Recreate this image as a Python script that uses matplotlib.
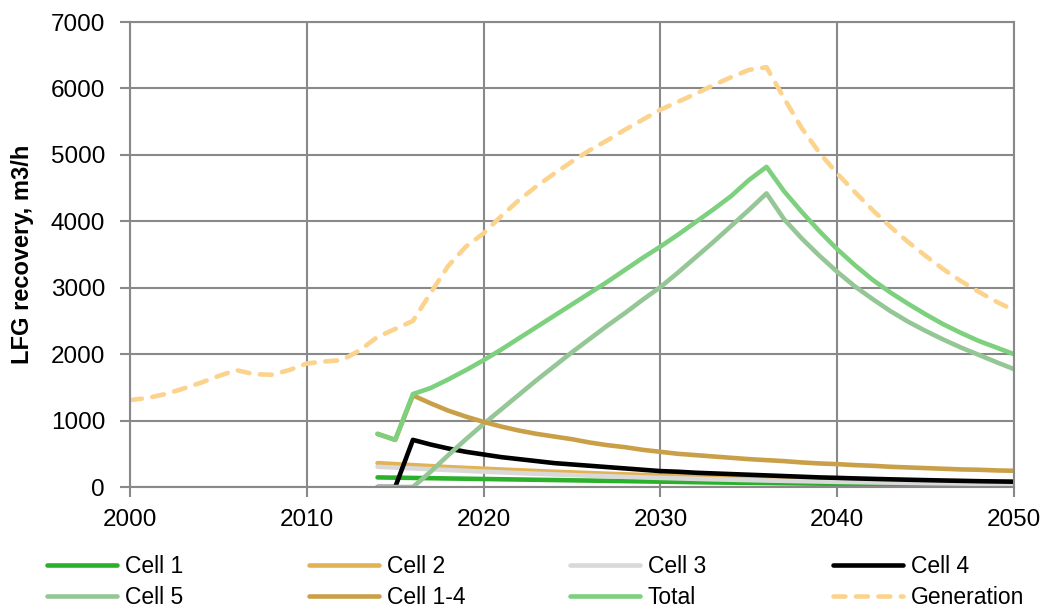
import numpy as np
import matplotlib
matplotlib.use('Agg')
import matplotlib.pyplot as plt

plt.rcParams['font.family'] = ['Liberation Sans', 'DejaVu Sans']

# Landfill gas recovery per cell, m3/h, yearly values
years_gen = list(range(2000, 2051))
years_cells = list(range(2014, 2051))

generation = [1310, 1340, 1400, 1480, 1570, 1670, 1760, 1700, 1690, 1760,
              1860, 1890, 1910, 2060, 2260, 2380, 2500, 2920, 3330, 3620,
              3820, 4080, 4320, 4530, 4720, 4900, 5070, 5220, 5380, 5530,
              5680, 5800, 5920, 6050, 6170, 6280, 6320, 5850, 5400, 5030,
              4720, 4440, 4170, 3920, 3690, 3480, 3280, 3100, 2940, 2790,
              2660]

cell1 = [145, 141, 137, 133, 129, 125, 121, 117, 113, 109,
         105, 101, 97, 93, 89, 85, 81, 77, 73, 69,
         66, 63, 60, 57, 54, 51, 48, 45, 43, 41,
         39, 37, 35, 33, 31, 29, 27]
cell2 = [360, 345, 330, 315, 300, 288, 276, 264, 252, 241,
         230, 220, 210, 200, 191, 182, 174, 166, 158, 151,
         144, 138, 132, 126, 121, 116, 111, 107, 103, 99,
         96, 93, 90, 87, 85, 83, 80]
cell3 = [305, 292, 280, 268, 256, 244, 232, 221, 210, 200,
         190, 180, 171, 162, 153, 145, 137, 130, 123, 116,
         110, 104, 98, 93, 88, 83, 78, 74, 70, 66,
         62, 58, 55, 52, 49, 46, 43]
cell4 = [0, 0, 710, 640, 580, 530, 490, 450, 420, 390,
         360, 340, 320, 300, 280, 260, 240, 230, 215, 205,
         195, 185, 175, 165, 155, 145, 138, 130, 123, 116,
         110, 104, 98, 93, 88, 84, 80]
cell5 = [0, 0, 0, 230, 480, 720, 950, 1170, 1390, 1610,
         1820, 2030, 2230, 2430, 2620, 2820, 3010, 3230, 3460, 3690,
         3930, 4170, 4420, 4030, 3740, 3480, 3240, 3020, 2830, 2650,
         2490, 2350, 2220, 2100, 1990, 1880, 1775]
cell1_4 = [800, 710, 1380, 1260, 1150, 1060, 980, 910, 850, 800,
           760, 720, 670, 630, 600, 560, 530, 500, 480, 460,
           440, 420, 405, 390, 370, 355, 345, 330, 320, 305,
           295, 285, 275, 265, 260, 250, 245]
total = [800, 710, 1400, 1490, 1620, 1760, 1910, 2070, 2240, 2410,
         2580, 2750, 2920, 3090, 3270, 3450, 3620, 3800, 3990, 4180,
         4380, 4620, 4820, 4450, 4140, 3850, 3580, 3340, 3120, 2930,
         2760, 2600, 2450, 2320, 2200, 2100, 2000]

labels = ['Cell 1', 'Cell 2', 'Cell 3', 'Cell 4', 'Cell 5', 'Cell 1-4', 'Total', 'Generation']
colors = ['#2BB02B', '#E2B256', '#D9D9D9', '#000000', '#95C695', '#C9A048', '#7DD07D', '#FBD38D']

fig = plt.figure(figsize=(10.47, 6.12), dpi=100)
ax = fig.add_axes([0.1242, 0.2042, 0.8443, 0.7598])

lw = 3.3
series = [cell1, cell2, cell3, cell4, cell5, cell1_4, total]
for vals, lab, col in zip(series, labels[:7], colors[:7]):
    ax.plot(years_cells, vals, color=col, lw=lw, solid_capstyle='round',
            solid_joinstyle='round', label=lab)
ax.plot(years_gen, generation, color=colors[7], lw=lw, dashes=(2.6, 2.3),
        dash_capstyle='round', dash_joinstyle='round', label=labels[7])

ax.set_xlim(2000, 2050)
ax.set_ylim(0, 7000)
ax.set_xticks(range(2000, 2051, 10))
ax.set_yticks(range(0, 7001, 1000))
ax.grid(True, color='#898989', lw=1.5)
ax.set_axisbelow(True)
for s in ax.spines.values():
    s.set_color('#898989')
    s.set_linewidth(1.5)
ax.tick_params(axis='both', colors='#898989', labelcolor='black', length=7,
               width=1.5, labelsize=17.5)
ax.tick_params(axis='y', pad=11)
ax.tick_params(axis='x', pad=9)
ax.set_ylabel('LFG recovery, m3/h', fontsize=17, fontweight='bold', labelpad=12)

# legend below the axes, four columns placed at fixed positions
handles = ax.get_lines()
col_x = [47, 309, 570, 833]
for i, x in enumerate(col_x):
    hs = [handles[i], handles[i + 4]]
    fig.legend(hs, [labels[i], labels[i + 4]], loc='upper left',
               bbox_to_anchor=(x / 1047, 1 - 555 / 612), frameon=False,
               fontsize=16.5, handlelength=3.05, handletextpad=0.35,
               labelspacing=0.33, borderaxespad=0, borderpad=0)

fig.savefig('out.png', dpi=100)
